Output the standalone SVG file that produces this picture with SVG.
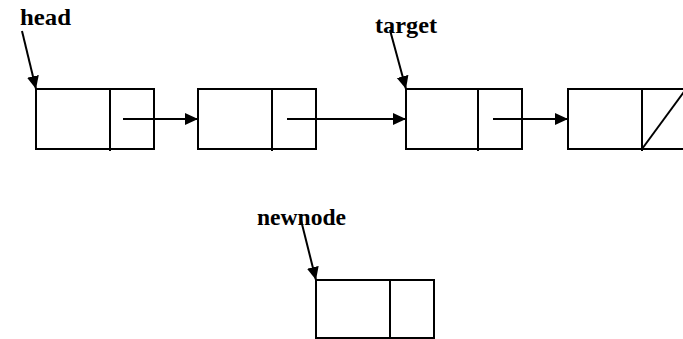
<svg xmlns="http://www.w3.org/2000/svg" width="683" height="339" viewBox="0 0 683 339">
<style>
.box{fill:none;stroke:#000;stroke-width:2}
.ln{stroke:#000;stroke-width:2;fill:none}
.lbl{font-family:"Liberation Serif","Times New Roman",serif;font-weight:bold;font-size:24px;fill:#000}
</style>
<defs>
<marker id="ah" markerUnits="userSpaceOnUse" markerWidth="14" markerHeight="14" viewBox="0 0 14 14" refX="13" refY="7" orient="auto">
<path d="M0,1 L13,7 L0,13 Z" fill="#000"/>
</marker>
</defs>
<rect width="683" height="339" fill="#fff"/>
<g id="node1">
<rect class="box" x="36" y="89" width="118" height="60"/>
<line class="ln" x1="110" y1="89" x2="110" y2="151"/>
</g>
<g id="node2">
<rect class="box" x="198" y="89" width="118" height="60"/>
<line class="ln" x1="272" y1="89" x2="272" y2="151"/>
</g>
<g id="node3">
<rect class="box" x="406" y="89" width="116" height="60"/>
<line class="ln" x1="478" y1="89" x2="478" y2="151"/>
</g>
<g id="node4">
<rect class="box" x="568" y="89" width="118" height="60"/>
<line class="ln" x1="642" y1="89" x2="642" y2="151"/>
<line class="ln" x1="642" y1="149" x2="686" y2="89"/>
</g>
<g id="newnode">
<rect class="box" x="316" y="280" width="118" height="58"/>
<line class="ln" x1="390" y1="280" x2="390" y2="338"/>
</g>
<g id="labels">
<text class="lbl" x="20" y="25" textLength="51" lengthAdjust="spacingAndGlyphs">head</text>
<text class="lbl" x="375" y="33" textLength="62" lengthAdjust="spacingAndGlyphs">target</text>
<text class="lbl" x="257" y="225" textLength="89" lengthAdjust="spacingAndGlyphs">newnode</text>
</g>
<g id="connectors">
<line class="ln" x1="123" y1="119" x2="198" y2="119" marker-end="url(#ah)"/>
<line class="ln" x1="287" y1="119" x2="406" y2="119" marker-end="url(#ah)"/>
<line class="ln" x1="493" y1="119" x2="568" y2="119" marker-end="url(#ah)"/>
<line class="ln" x1="22" y1="31" x2="36" y2="89" marker-end="url(#ah)"/>
<line class="ln" x1="390" y1="30" x2="406" y2="89" marker-end="url(#ah)"/>
<line class="ln" x1="301" y1="220" x2="316" y2="280" marker-end="url(#ah)"/>
</g>
</svg>
